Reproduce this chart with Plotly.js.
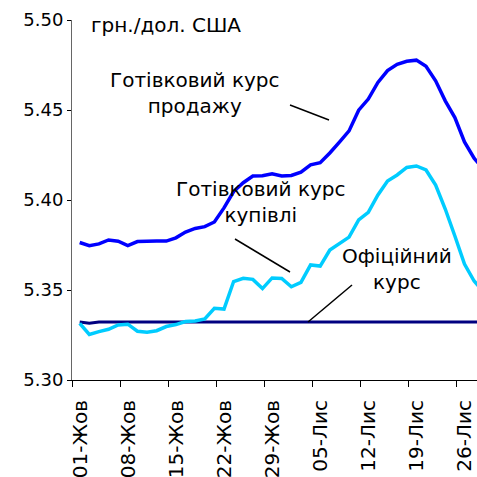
<!DOCTYPE html>
<html>
<head>
<meta charset="utf-8">
<script src="https://cdn.plot.ly/plotly-3.0.1.min.js"></script>
<style>html,body{margin:0;padding:0;background:#fff;}#chart{width:477px;height:477px;}</style>
</head>
<body>
<div id="chart"></div>
<script>
// Working days, 1 Oct – 28 Nov
const dates = [
  "01.10","02.10","03.10","04.10","07.10","08.10","09.10","10.10","11.10","14.10",
  "15.10","16.10","17.10","18.10","21.10","22.10","23.10","24.10","25.10","28.10",
  "29.10","30.10","31.10","01.11","04.11","05.11","06.11","07.11","08.11","11.11",
  "12.11","13.11","14.11","15.11","18.11","19.11","20.11","21.11","22.11","25.11",
  "26.11","27.11","28.11"
];
// Cash selling rate
const saleRate = [
  5.3764,5.3746,5.3756,5.3778,5.3771,5.3747,5.3769,5.3772,5.3772,5.3772,
  5.3790,5.3822,5.3842,5.3852,5.3878,5.3956,5.4047,5.4096,5.4133,5.4135,
  5.4146,5.4133,5.4136,5.4155,5.4195,5.4207,5.4261,5.4322,5.4384,5.4499,
  5.4561,5.4653,5.4719,5.4754,5.4771,5.4777,5.4743,5.4662,5.4551,5.4458,
  5.4323,5.4232,5.4170
];
// Cash buying rate
const buyRate = [
  5.3315,5.3253,5.3269,5.3282,5.3306,5.3310,5.3271,5.3266,5.3274,5.3297,
  5.3308,5.3325,5.3328,5.3339,5.3398,5.3394,5.3547,5.3565,5.3559,5.3508,
  5.3567,5.3564,5.3518,5.3542,5.3639,5.3633,5.3722,5.3756,5.3794,5.3889,
  5.3931,5.4028,5.4106,5.4139,5.4181,5.4189,5.4167,5.4083,5.3950,5.3800,
  5.3644,5.3550,5.3490
];
// Official rate
const officialRate = [
  5.3322,5.3315,5.3322,5.3322,5.3322,5.3320,5.3322,5.3322,5.3322,5.3322,
  5.3322,5.3322,5.3322,5.3322,5.3322,5.3322,5.3322,5.3322,5.3322,5.3322,
  5.3322,5.3322,5.3322,5.3322,5.3322,5.3322,5.3322,5.3322,5.3322,5.3322,
  5.3322,5.3322,5.3322,5.3322,5.3322,5.3322,5.3322,5.3322,5.3322,5.3322,
  5.3322,5.3322,5.3322
];
const tickLabels = ["01-Жов","08-Жов","15-Жов","22-Жов","29-Жов","05-Лис","12-Лис","19-Лис","26-Лис"];
const yTicks = [5.30, 5.35, 5.40, 5.45, 5.50];

const idx = dates.map((d, i) => i);
const tickPos = tickLabels.map((t, k) => k * 5 - 0.78);

const font = "DejaVu Sans, Verdana, sans-serif";

const traces = [
  {x: idx, y: officialRate, text: dates, mode: "lines", line: {color: "#000080", width: 3}},
  {x: idx, y: buyRate, text: dates, mode: "lines", line: {color: "#00CCFF", width: 3.5}},
  {x: idx, y: saleRate, text: dates, mode: "lines", line: {color: "#0000FF", width: 3.5}}
];

function px(x){ return (x - 72) / 405; }
function py(y){ return (380 - y) / 360; }

const layout = {
  width: 477, height: 477,
  margin: {l: 72, r: 0, t: 20, b: 97, pad: 0},
  paper_bgcolor: "#fff", plot_bgcolor: "#fff",
  showlegend: false,
  font: {family: font, size: 18, color: "#000"},
  xaxis: {
    range: [-0.80, 41.30],
    tickmode: "array", tickvals: tickPos, ticktext: tickLabels,
    tickangle: -90, ticks: "outside", ticklen: 6, tickcolor: "#000",
    ticklabelshift: 8, ticklabelstandoff: 5, ticklabeloverflow: "allow",
    showline: true, linecolor: "#000", linewidth: 1,
    showgrid: false, zeroline: false,
    tickfont: {family: font, size: 20, color: "#000"}
  },
  yaxis: {
    range: [5.30, 5.50],
    tickmode: "array", tickvals: yTicks, ticktext: yTicks.map(v => v.toFixed(2)),
    ticks: "outside", ticklen: 4, tickcolor: "#000",
    showline: true, linecolor: "#666", linewidth: 1,
    showgrid: false, zeroline: false,
    tickfont: {family: font, size: 18, color: "#000"}
  },
  annotations: [
    {text: "грн./дол. США", xref: "paper", yref: "paper", x: px(165.5), y: py(25), xanchor: "center", yanchor: "middle", showarrow: false, font: {family: font, size: 20, color: "#000"}},
    {text: "Готівковий курс<br>продажу", xref: "paper", yref: "paper", x: px(195), y: py(93), xanchor: "center", yanchor: "middle", showarrow: false, font: {family: font, size: 20, color: "#000"}},
    {text: "Готівковий курс<br>купівлі", xref: "paper", yref: "paper", x: px(261), y: py(202), xanchor: "center", yanchor: "middle", showarrow: false, font: {family: font, size: 20, color: "#000"}},
    {text: "Офіційний<br>курс", xref: "paper", yref: "paper", x: px(397), y: py(269), xanchor: "center", yanchor: "middle", showarrow: false, font: {family: font, size: 20, color: "#000"}}
  ],
  shapes: [
    {type: "line", xref: "paper", yref: "paper", x0: px(290), y0: py(105), x1: px(329), y1: py(120), line: {color: "#000", width: 1.5}},
    {type: "line", xref: "paper", yref: "paper", x0: px(235), y0: py(239), x1: px(290), y1: py(272), line: {color: "#000", width: 1.5}},
    {type: "line", xref: "paper", yref: "paper", x0: px(352), y0: py(285), x1: px(308), y1: py(322), line: {color: "#000", width: 1.5}}
  ]
};

Plotly.newPlot("chart", traces, layout, {displayModeBar: false, staticPlot: true});
</script>
</body>
</html>
